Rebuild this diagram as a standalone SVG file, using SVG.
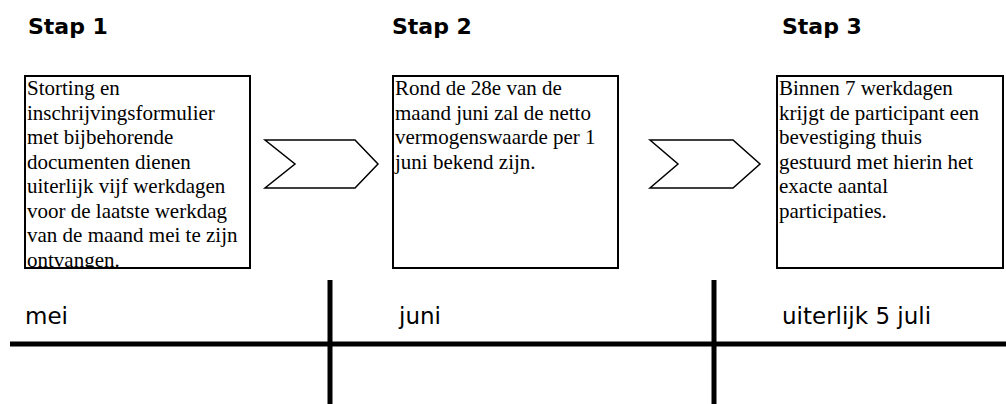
<svg xmlns="http://www.w3.org/2000/svg" width="1006" height="404" viewBox="0 0 1006 404">
<style>
.hdr{font-family:"DejaVu Sans",Verdana,sans-serif;font-weight:bold;font-size:22px;fill:#000}
.box{fill:#fff;stroke:#000;stroke-width:2}
.body{font-family:"Liberation Serif","Times New Roman",serif;font-size:21px;fill:#000}
.chev{fill:#fff;stroke:#000;stroke-width:1.5;stroke-linejoin:miter}
.lbl{font-family:"DejaVu Sans",Verdana,sans-serif;font-size:23px;fill:#000}
.axis{stroke:#000;stroke-width:5;fill:none}
</style>
<defs>
<clipPath id="c1"><rect x="26" y="77" width="223" height="190"/></clipPath>
</defs>
<rect width="1006" height="404" fill="#fff"/>
<g id="step1">
<text class="hdr" x="28" y="34">Stap 1</text>
<rect class="box" x="25" y="76" width="225" height="192"/>
<text class="body" clip-path="url(#c1)">
<tspan x="27" y="95">Storting en</tspan>
<tspan x="27" y="119.5">inschrijvingsformulier</tspan>
<tspan x="27" y="144">met bijbehorende</tspan>
<tspan x="27" y="168.5">documenten dienen</tspan>
<tspan x="27" y="193">uiterlijk vijf werkdagen</tspan>
<tspan x="27" y="217.5">voor de laatste werkdag</tspan>
<tspan x="27" y="242">van de maand mei te zijn</tspan>
<tspan x="27" y="266.5">ontvangen.</tspan>
</text>
</g>
<g id="step2">
<text class="hdr" x="392" y="34">Stap 2</text>
<rect class="box" x="393" y="76" width="225" height="192"/>
<text class="body">
<tspan x="395" y="95">Rond de 28e van de</tspan>
<tspan x="395" y="119.5">maand juni zal de netto</tspan>
<tspan x="395" y="144">vermogenswaarde per 1</tspan>
<tspan x="395" y="168.5">juni bekend zijn.</tspan>
</text>
</g>
<g id="step3">
<text class="hdr" x="782" y="34">Stap 3</text>
<rect class="box" x="777" y="76" width="226" height="192"/>
<text class="body">
<tspan x="779" y="95">Binnen 7 werkdagen</tspan>
<tspan x="779" y="119.5">krijgt de participant een</tspan>
<tspan x="779" y="144">bevestiging thuis</tspan>
<tspan x="779" y="168.5">gestuurd met hierin het</tspan>
<tspan x="779" y="193">exacte aantal</tspan>
<tspan x="779" y="217.5">participaties.</tspan>
</text>
</g>
<g id="connectors">
<polygon class="chev" points="265,140 355,140 378,164 355,188 265,188 295,164"/>
<polygon class="chev" points="650,140 733,140 760,164 733,188 650,188 678,164"/>
</g>
<g id="timeline">
<line class="axis" x1="10" y1="344" x2="1006" y2="344"/>
<line class="axis" x1="330" y1="280" x2="330" y2="404"/>
<line class="axis" x1="714" y1="280" x2="714" y2="404"/>
<text class="lbl" x="25" y="324">mei</text>
<text class="lbl" x="399" y="324">juni</text>
<text class="lbl" x="782" y="324">uiterlijk 5 juli</text>
</g>
</svg>
